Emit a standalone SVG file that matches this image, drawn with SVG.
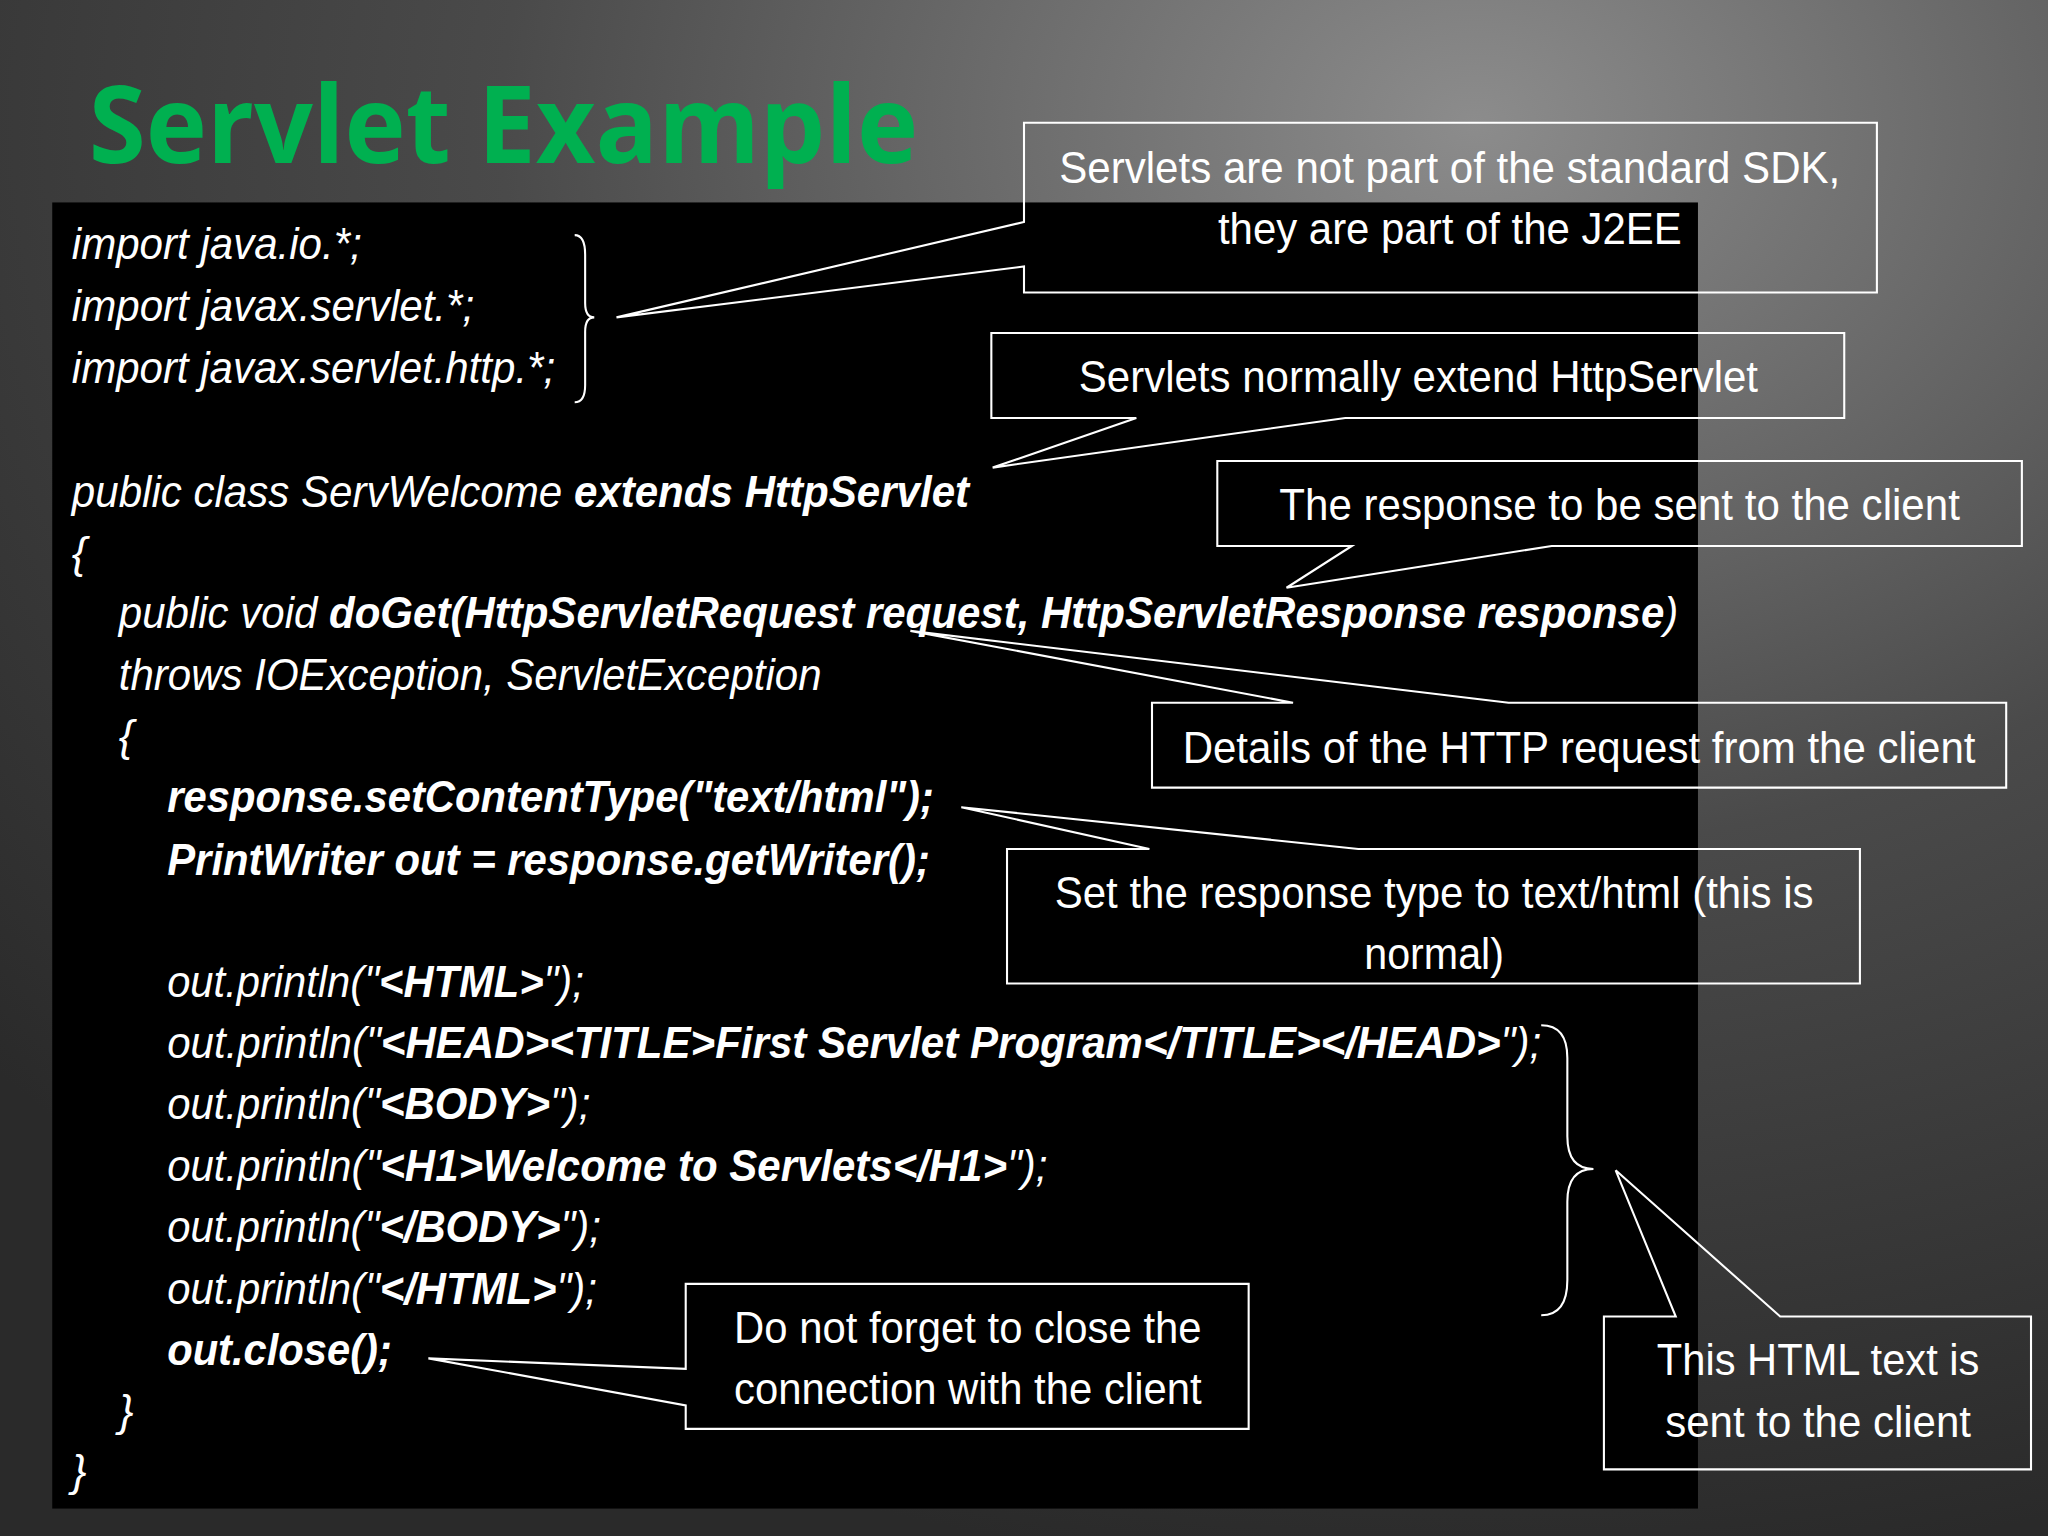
<svg xmlns="http://www.w3.org/2000/svg" width="2048" height="1536" viewBox="0 0 2048 1536">
<defs>
<radialGradient id="bg" cx="0.72" cy="0.08" r="0.95">
<stop offset="0" stop-color="#8c8c8c"/>
<stop offset="0.5" stop-color="#4a4a4a"/>
<stop offset="1" stop-color="#2a2a2a"/>
</radialGradient>
<style>
.code{font-family:"Liberation Sans",Arial,sans-serif;font-style:italic;font-size:34px;fill:#fff}
.b{font-weight:bold}
.call{font-family:"Liberation Sans",Arial,sans-serif;font-size:34px;fill:#fff;text-anchor:middle}
.co{fill:none;stroke:#fff;stroke-width:1.6}
</style>
</defs>
<rect width="2048" height="1536" fill="url(#bg)"/>
<g transform="scale(1.30612)">
<rect x="40" y="155" width="1260" height="1000" fill="#000"/>
<text x="68" y="125" font-family="'Open Sans','Liberation Sans',sans-serif" font-weight="bold" font-size="82" fill="#00b050" textLength="635" lengthAdjust="spacingAndGlyphs">Servlet Example</text>
<g id="code">
<text class="code" x="55" y="198" textLength="222" lengthAdjust="spacingAndGlyphs">import java.io.*;</text>
<text class="code" x="55" y="246" textLength="308" lengthAdjust="spacingAndGlyphs">import javax.servlet.*;</text>
<text class="code" x="55" y="293" textLength="370" lengthAdjust="spacingAndGlyphs">import javax.servlet.http.*;</text>
<text class="code" x="55" y="388" textLength="687" lengthAdjust="spacingAndGlyphs">public class ServWelcome <tspan class="b">extends HttpServlet</tspan></text>
<text class="code" x="55" y="435">{</text>
<text class="code" x="91" y="481" textLength="1194" lengthAdjust="spacingAndGlyphs">public void <tspan class="b">doGet(HttpServletRequest request, HttpServletResponse response</tspan>)</text>
<text class="code" x="91" y="528" textLength="538" lengthAdjust="spacingAndGlyphs">throws IOException, ServletException</text>
<text class="code" x="91" y="575">{</text>
<text class="code b" x="128" y="622" textLength="587" lengthAdjust="spacingAndGlyphs">response.setContentType("text/html");</text>
<text class="code b" x="128" y="670" textLength="584" lengthAdjust="spacingAndGlyphs">PrintWriter out = response.getWriter();</text>
<text class="code" x="128" y="763" textLength="319" lengthAdjust="spacingAndGlyphs">out.println("<tspan class="b">&lt;HTML&gt;</tspan>");</text>
<text class="code" x="128" y="810" textLength="1052" lengthAdjust="spacingAndGlyphs">out.println("<tspan class="b">&lt;HEAD&gt;&lt;TITLE&gt;First Servlet Program&lt;/TITLE&gt;&lt;/HEAD&gt;</tspan>");</text>
<text class="code" x="128" y="857" textLength="324" lengthAdjust="spacingAndGlyphs">out.println("<tspan class="b">&lt;BODY&gt;</tspan>");</text>
<text class="code" x="128" y="904" textLength="674" lengthAdjust="spacingAndGlyphs">out.println("<tspan class="b">&lt;H1&gt;Welcome to Servlets&lt;/H1&gt;</tspan>");</text>
<text class="code" x="128" y="951" textLength="332" lengthAdjust="spacingAndGlyphs">out.println("<tspan class="b">&lt;/BODY&gt;</tspan>");</text>
<text class="code" x="128" y="998" textLength="329" lengthAdjust="spacingAndGlyphs">out.println("<tspan class="b">&lt;/HTML&gt;</tspan>");</text>
<text class="code b" x="128" y="1045" textLength="172" lengthAdjust="spacingAndGlyphs">out.close();</text>
<text class="code" x="91" y="1092">}</text>
<text class="code" x="55" y="1138">}</text>
</g>
<g id="braces" class="co" stroke-width="2.2">
<path class="co" stroke-width="2.2" d="M440,180 Q448,180 448,195 L448,232 Q448,243 455,243 Q448,243 448,254 L448,295 Q448,308 440,308"/>
<path class="co" stroke-width="2.2" d="M1180,785 Q1200,785 1200,810 L1200,870 Q1200,895 1220,895 Q1200,895 1200,920 L1200,980 Q1200,1007 1180,1007"/>
</g>
<g id="connectors">
<path class="co" d="M784,170 L784,94 L1437,94 L1437,224 L784,224 L784,204 L472,243 Z"/>
<path class="co" d="M870,320 L759,320 L759,255 L1412,255 L1412,320 L1030,320 L760,358 Z"/>
<path class="co" d="M1035,418 L932,418 L932,353 L1548,353 L1548,418 L1188,418 L985,450 Z"/>
<path class="co" d="M990,538 L882,538 L882,603 L1536,603 L1536,538 L1155,538 L697,483 Z"/>
<path class="co" d="M880,650 L771,650 L771,753 L1424,753 L1424,650 L1040,650 L736,618 Z"/>
<path class="co" d="M525,1048 L525,983 L956,983 L956,1094 L525,1094 L525,1076 L328,1040 Z"/>
<path class="co" d="M1283,1008 L1228,1008 L1228,1125 L1555,1125 L1555,1008 L1363,1008 L1237,896 Z"/>
</g>
<g id="n1"><text class="call" x="1110" y="140" textLength="598" lengthAdjust="spacingAndGlyphs">Servlets are not part of the standard SDK,</text><text class="call" x="1110" y="187" textLength="355" lengthAdjust="spacingAndGlyphs">they are part of the J2EE</text></g>
<g id="n2"><text class="call" x="1086" y="300" textLength="520" lengthAdjust="spacingAndGlyphs">Servlets normally extend HttpServlet</text></g>
<g id="n3"><text class="call" x="1240" y="398" textLength="521" lengthAdjust="spacingAndGlyphs">The response to be sent to the client</text></g>
<g id="n4"><text class="call" x="1209" y="584" textLength="607" lengthAdjust="spacingAndGlyphs">Details of the HTTP request from the client</text></g>
<g id="n5"><text class="call" x="1098" y="695" textLength="581" lengthAdjust="spacingAndGlyphs">Set the response type to text/html (this is</text><text class="call" x="1098" y="742" textLength="107" lengthAdjust="spacingAndGlyphs">normal)</text></g>
<g id="n6"><text class="call" x="741" y="1028" textLength="358" lengthAdjust="spacingAndGlyphs">Do not forget to close the</text><text class="call" x="741" y="1075" textLength="358" lengthAdjust="spacingAndGlyphs">connection with the client</text></g>
<g id="n7"><text class="call" x="1392" y="1053" textLength="247" lengthAdjust="spacingAndGlyphs">This HTML text is</text><text class="call" x="1392" y="1100" textLength="234" lengthAdjust="spacingAndGlyphs">sent to the client</text></g>
</g>
</svg>
